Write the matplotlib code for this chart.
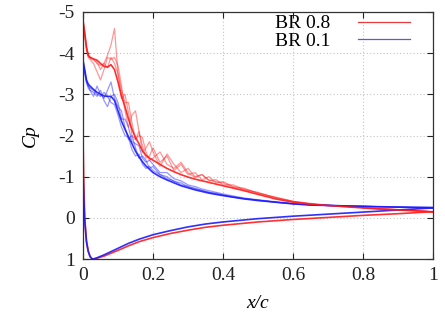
import matplotlib
matplotlib.use("Agg")
import matplotlib.pyplot as plt
from matplotlib.lines import Line2D

plt.rcParams['font.family'] = ['Liberation Serif', 'DejaVu Serif']
plt.rcParams['axes.unicode_minus'] = False

# upper-surface chord positions
xu = [0.0, 0.005, 0.01, 0.015, 0.02, 0.03, 0.04, 0.05, 0.06, 0.07, 0.08, 0.09,
      0.10, 0.11, 0.12, 0.13, 0.14, 0.15, 0.16, 0.17, 0.18, 0.19, 0.20, 0.22,
      0.24, 0.26, 0.28, 0.30, 0.32, 0.34, 0.36, 0.38, 0.40, 0.43, 0.46, 0.50,
      0.55, 0.60, 0.65, 0.70, 0.75, 0.80, 0.85, 0.90, 0.95, 1.0]

# BR 0.8 upper surface (main + instantaneous)
r1_up = [-4.8, -4.5, -4.15, -3.95, -3.9, -3.86, -3.83, -3.75, -3.68, -3.66, -3.72, -3.6,
         -3.3, -2.95, -2.7, -2.4, -2.15, -1.95, -1.8, -1.62, -1.52, -1.45, -1.4, -1.3,
         -1.2, -1.12, -1.05, -0.99, -0.94, -0.9, -0.86, -0.82, -0.78, -0.72, -0.66, -0.57,
         -0.46, -0.38, -0.33, -0.3, -0.27, -0.24, -0.21, -0.19, -0.17, -0.14]
r2_up = [-4.75, -4.45, -4.1, -3.92, -3.88, -3.84, -3.78, -3.6, -3.75, -3.95, -4.2, -4.6,
         -3.5, -2.9, -3.0, -2.55, -2.0, -1.9, -2.1, -1.75, -1.45, -1.5, -1.7, -1.35,
         -1.5, -1.15, -1.3, -1.05, -1.1, -0.92, -1.0, -0.85, -0.88, -0.76, -0.72, -0.6,
         -0.5, -0.4, -0.34, -0.3, -0.27, -0.25, -0.22, -0.2, -0.18, -0.15]
r3_up = [-4.7, -4.4, -4.05, -3.9, -3.85, -3.75, -3.55, -3.35, -3.6, -3.9, -3.85, -3.9,
         -3.7, -3.2, -2.6, -2.2, -2.5, -2.6, -2.1, -1.6, -1.7, -1.85, -1.6, -1.25,
         -1.55, -1.3, -1.1, -1.2, -1.0, -1.05, -0.9, -0.93, -0.8, -0.8, -0.68, -0.62,
         -0.48, -0.4, -0.35, -0.31, -0.28, -0.25, -0.23, -0.2, -0.17, -0.15]
r4_up = [-4.8, -4.5, -4.15, -3.95, -3.9, -3.85, -3.75, -3.7, -3.75, -3.65, -3.9, -3.75,
         -3.5, -3.1, -2.8, -2.8, -2.3, -1.9, -2.0, -1.95, -1.6, -1.4, -1.45, -1.6,
         -1.3, -1.2, -1.35, -1.1, -0.98, -1.05, -0.92, -0.88, -0.85, -0.74, -0.7, -0.6,
         -0.5, -0.4, -0.34, -0.3, -0.28, -0.25, -0.22, -0.2, -0.18, -0.15]

# BR 0.1 upper surface
b1_up = [-3.83, -3.6, -3.35, -3.25, -3.2, -3.12, -3.05, -3.0, -2.96, -2.95, -2.95, -2.85,
         -2.6, -2.35, -2.15, -1.97, -1.8, -1.62, -1.48, -1.36, -1.26, -1.18, -1.1, -1.0,
         -0.92, -0.85, -0.78, -0.73, -0.68, -0.64, -0.6, -0.57, -0.54, -0.5, -0.46, -0.42,
         -0.38, -0.34, -0.31, -0.3, -0.29, -0.28, -0.27, -0.26, -0.25, -0.25]
b2_up = [-3.8, -3.55, -3.3, -3.2, -3.1, -2.95, -3.2, -3.0, -2.9, -3.1, -3.3, -2.9,
         -2.7, -2.6, -2.2, -1.9, -2.0, -1.7, -1.45, -1.5, -1.4, -1.2, -1.25, -1.05,
         -1.0, -0.88, -0.85, -0.75, -0.72, -0.66, -0.62, -0.58, -0.56, -0.5, -0.47, -0.43,
         -0.38, -0.34, -0.32, -0.3, -0.29, -0.28, -0.27, -0.27, -0.26, -0.25]
b3_up = [-3.75, -3.5, -3.28, -3.15, -3.1, -3.05, -2.95, -3.1, -2.85, -2.7, -2.95, -3.0,
         -2.8, -2.4, -2.4, -2.2, -1.85, -1.8, -1.75, -1.45, -1.35, -1.4, -1.3, -1.1,
         -1.1, -0.95, -0.9, -0.8, -0.76, -0.7, -0.66, -0.62, -0.58, -0.53, -0.48, -0.44,
         -0.39, -0.35, -0.32, -0.31, -0.29, -0.28, -0.27, -0.26, -0.26, -0.25]
b4_up = [-3.8, -3.55, -3.32, -3.2, -3.15, -3.1, -3.0, -2.95, -3.05, -2.95, -2.8, -2.75,
         -2.5, -2.2, -2.0, -1.95, -1.65, -1.5, -1.55, -1.3, -1.2, -1.25, -1.15, -1.05,
         -0.95, -0.9, -0.8, -0.77, -0.7, -0.67, -0.62, -0.6, -0.55, -0.51, -0.47, -0.43,
         -0.38, -0.34, -0.31, -0.3, -0.29, -0.28, -0.27, -0.26, -0.25, -0.24]

# lower surface
xl = [0.0, 0.002, 0.005, 0.01, 0.015, 0.02, 0.025, 0.03, 0.04, 0.06, 0.08, 0.1,
      0.13, 0.16, 0.2, 0.25, 0.3, 0.35, 0.4, 0.5, 0.6, 0.7, 0.8, 0.9, 1.0]
r_lo = [-2.0, -1.0, 0.0, 0.55, 0.8, 0.93, 0.99, 1.0, 0.98, 0.93, 0.86, 0.79,
        0.68, 0.58, 0.48, 0.38, 0.3, 0.23, 0.18, 0.1, 0.04, -0.01, -0.06, -0.1, -0.15]
b_lo = [-1.2, -0.5, 0.1, 0.6, 0.82, 0.94, 0.99, 1.0, 0.97, 0.9, 0.82, 0.74,
        0.62, 0.52, 0.41, 0.31, 0.22, 0.15, 0.1, 0.02, -0.04, -0.09, -0.14, -0.19, -0.24]

labels = ["BR 0.8", "BR 0.1"]
xticks = [0, 0.2, 0.4, 0.6, 0.8, 1]
xticklabels = ["0", "0.2", "0.4", "0.6", "0.8", "1"]
yticks = [-5, -4, -3, -2, -1, 0, 1]
yticklabels = ["-5", "-4", "-3", "-2", "-1", "0", "1"]

RED = "#ff1a1a"
BLUE = "#1a1aff"

fig = plt.figure(figsize=(4.45, 3.2), dpi=100)
ax = fig.add_axes([0.1865, 0.1906, 0.7865, 0.7719])

for ys in (r2_up, r3_up, r4_up):
    ax.plot(xu, ys, color=RED, lw=0.9, alpha=0.45)
for ys in (b2_up, b3_up, b4_up):
    ax.plot(xu, ys, color=BLUE, lw=0.9, alpha=0.45)
ax.plot(xl, r_lo, color=RED, lw=1.2, alpha=0.9)
ax.plot(xl, b_lo, color=BLUE, lw=1.2, alpha=0.9)
ax.plot(xu, b1_up, color=BLUE, lw=1.2, alpha=0.9)
ax.plot(xu, r1_up, color=RED, lw=1.2, alpha=0.9)

ax.set_xlim(0, 1)
ax.set_ylim(1, -5)
ax.set_xticks(xticks)
ax.set_xticklabels(xticklabels)
ax.set_yticks(yticks)
ax.set_yticklabels(yticklabels)
ax.tick_params(direction='in', top=True, right=True, length=4, width=0.8,
               labelsize=14, colors='#222222', pad=6)
for s in ax.spines.values():
    s.set_color('#333333')
    s.set_linewidth(0.9)
ax.grid(True, color='#c4c4c4', linestyle=(0, (1, 2)), linewidth=0.8)
ax.set_axisbelow(True)

ax.set_xlabel("x/c", fontsize=14, style='italic', labelpad=8)
ax.set_ylabel("Cp", fontsize=14, style='italic', labelpad=14)

handles = [Line2D([0], [0], color="#e83a3a", lw=0.9),
           Line2D([0], [0], color="#5a5ad8", lw=0.9)]
ax.legend(handles, labels, loc='upper right', frameon=False, markerfirst=False,
          fontsize=14, handlelength=2.7, handletextpad=1.4, labelspacing=0.0,
          borderaxespad=0.0, bbox_to_anchor=(0.957, 1.02))

fig.savefig("out.png", dpi=100)
